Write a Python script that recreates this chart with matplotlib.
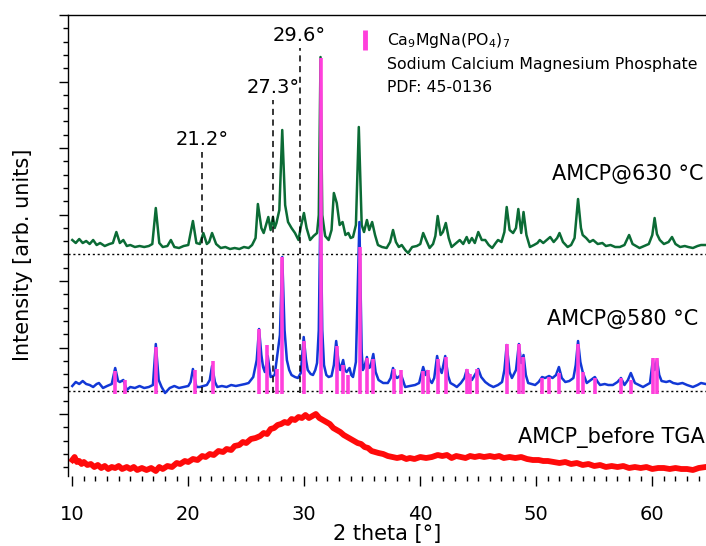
import matplotlib
matplotlib.use('Agg')
import matplotlib.pyplot as plt
from matplotlib.ticker import MultipleLocator
import numpy as np

plt.rcParams['font.family'] = ['DejaVu Sans']
plt.rcParams['mathtext.default'] = 'regular'

# AMCP@630 °C (intensity above its own baseline, arb. units)
tt_630 = [10.0, 10.3, 10.6, 10.9, 11.2, 11.5, 11.8, 12.1, 12.4, 12.8, 13.2, 13.5, 13.8, 14.1, 14.4, 14.7,
          15.0, 15.4, 15.8, 16.2, 16.6, 16.9, 17.2, 17.5, 17.8, 18.2, 18.5, 18.8, 19.2, 19.6, 20.0, 20.4,
          20.7, 21.0, 21.3, 21.6, 21.8, 22.05, 22.4, 22.8, 23.2, 23.6, 24.0, 24.4, 24.8, 25.2, 25.5, 25.8,
          26.0, 26.3, 26.5, 26.9, 27.1, 27.3, 27.45, 27.6, 27.85, 28.1, 28.35, 28.6, 28.9, 29.2, 29.5, 29.7,
          29.97, 30.2, 30.5, 30.8, 31.1, 31.25, 31.4, 31.55, 31.8, 32.1, 32.35, 32.55, 32.8, 33.05, 33.3, 33.55,
          33.8, 34.0, 34.2, 34.45, 34.7, 34.95, 35.15, 35.4, 35.6, 35.85, 36.1, 36.35, 36.7, 37.1, 37.4, 37.65,
          37.9, 38.15, 38.4, 38.7, 38.95, 39.3, 39.7, 40.0, 40.25, 40.5, 40.8, 41.1, 41.3, 41.5, 41.75, 41.95,
          42.2, 42.45, 42.7, 43.0, 43.4, 43.7, 44.0, 44.2, 44.45, 44.7, 45.0, 45.3, 45.6, 45.9, 46.2, 46.5,
          46.7, 47.0, 47.25, 47.45, 47.7, 48.0, 48.25, 48.45, 48.7, 48.9, 49.15, 49.45, 49.8, 50.1, 50.3, 50.6,
          50.9, 51.2, 51.5, 51.8, 52.0, 52.3, 52.7, 53.0, 53.3, 53.6, 53.85, 54.0, 54.3, 54.6, 54.9, 55.3,
          55.7, 56.0, 56.4, 56.8, 57.2, 57.6, 58.0, 58.3, 58.6, 58.9, 59.3, 59.7, 60.0, 60.2, 60.4, 60.65,
          61.0, 61.4, 61.7, 62.0, 62.4, 62.8, 63.1, 63.5, 63.9, 64.2, 64.6]
int_630 = [14, 11, 15, 11, 13, 10, 14, 9, 11, 8, 10, 11, 22, 11, 14, 8,
           9, 7, 8, 7, 8, 10, 46, 11, 7, 8, 14, 7, 6, 8, 9, 33,
           11, 10, 21, 10, 12, 21, 10, 6, 7, 5, 6, 5, 7, 6, 9, 16,
           50, 26, 21, 37, 24, 37, 26, 31, 44, 124, 49, 32, 26, 21, 14, 27,
           41, 26, 14, 18, 21, 39, 197, 39, 18, 14, 24, 61, 51, 29, 32, 19,
           21, 16, 17, 29, 127, 29, 22, 34, 24, 32, 19, 9, 7, 6, 12, 24,
           12, 7, 9, 4, 1, 7, 8, 10, 21, 14, 6, 10, 18, 38, 19, 22,
           31, 16, 7, 10, 14, 10, 17, 11, 16, 11, 22, 14, 14, 9, 6, 11,
           14, 12, 22, 47, 24, 21, 26, 45, 21, 42, 19, 7, 9, 11, 14, 11,
           14, 17, 12, 16, 21, 12, 7, 9, 16, 55, 26, 19, 16, 12, 14, 10,
           11, 8, 9, 7, 7, 9, 19, 10, 8, 6, 8, 10, 19, 36, 20, 14,
           10, 12, 17, 10, 7, 8, 7, 6, 8, 9, 9]

# AMCP@580 °C
tt_580 = [10.0, 10.3, 10.6, 10.9, 11.2, 11.5, 11.8, 12.1, 12.3, 12.65, 13.0, 13.4, 13.7, 13.95, 14.1, 14.4,
          14.7, 15.0, 15.4, 15.8, 16.2, 16.6, 16.95, 17.2, 17.45, 17.7, 18.0, 18.4, 18.8, 19.2, 19.6, 20.0,
          20.2, 20.4, 20.7, 21.0, 21.3, 21.6, 21.85, 22.05, 22.3, 22.5, 22.9, 23.3, 23.7, 24.1, 24.5, 24.9,
          25.2, 25.6, 25.9, 26.1, 26.3, 26.45, 26.6, 26.85, 27.1, 27.3, 27.45, 27.7, 27.9, 28.1, 28.3, 28.5,
          28.7, 28.9, 29.2, 29.45, 29.7, 29.95, 30.15, 30.3, 30.55, 30.75, 30.95, 31.1, 31.25, 31.4, 31.55, 31.7,
          31.9, 32.1, 32.35, 32.55, 32.75, 32.95, 33.1, 33.35, 33.5, 33.65, 33.9, 34.05, 34.2, 34.45, 34.75, 34.95,
          35.05, 35.2, 35.4, 35.55, 35.7, 35.95, 36.15, 36.4, 36.8, 37.2, 37.45, 37.65, 37.85, 38.0, 38.35, 38.7,
          39.1, 39.55, 39.9, 40.25, 40.45, 40.6, 40.8, 41.0, 41.2, 41.45, 41.65, 41.85, 42.15, 42.4, 42.6, 42.9,
          43.15, 43.5, 43.8, 44.0, 44.2, 44.45, 44.75, 45.0, 45.25, 45.6, 45.95, 46.3, 46.7, 47.05, 47.25, 47.45,
          47.7, 47.9, 48.25, 48.5, 48.7, 48.9, 49.1, 49.3, 49.6, 49.9, 50.2, 50.5, 50.75, 51.1, 51.4, 51.7,
          51.95, 52.2, 52.5, 52.85, 53.2, 53.4, 53.6, 53.8, 54.0, 54.35, 54.7, 55.05, 55.3, 55.5, 55.9, 56.2,
          56.6, 57.0, 57.3, 57.6, 57.9, 58.15, 58.5, 58.85, 59.2, 59.5, 59.8, 60.05, 60.2, 60.4, 60.6, 60.8,
          61.2, 61.5, 61.8, 62.2, 62.6, 63.0, 63.5, 63.9, 64.2, 64.6]
int_580 = [5, 9, 7, 10, 7, 6, 4, 7, 8, 3, 5, 7, 23, 10, 9, 11,
           1, 4, 3, 5, 3, 4, 6, 47, 11, 4, -2, 3, 5, 3, 4, 5,
           9, 22, 4, 4, 5, 6, 11, 25, 9, 4, 5, 4, 6, 5, 6, 7,
           8, 14, 31, 62, 36, 24, 19, 35, 14, 15, 16, 38, 56, 134, 61, 31,
           21, 16, 14, 13, 18, 54, 31, 21, 17, 16, 21, 28, 61, 191, 61, 26,
           16, 14, 15, 26, 50, 29, 21, 31, 21, 19, 23, 16, 14, 29, 169, 39,
           21, 25, 34, 23, 24, 37, 19, 11, 8, 8, 13, 23, 15, 13, 16, 4,
           5, 6, 8, 24, 16, 20, 11, 8, 13, 35, 23, 18, 35, 15, 8, 6,
           4, 8, 13, 21, 15, 11, 17, 22, 14, 9, 6, 4, 6, 9, 21, 46,
           19, 13, 21, 47, 28, 36, 16, 8, 7, 6, 9, 14, 13, 15, 13, 16,
           24, 13, 9, 10, 13, 26, 50, 29, 19, 8, 11, 14, 9, 6, 7, 6,
           6, 9, 13, 6, 11, 18, 8, 6, 4, 6, 8, 31, 21, 31, 16, 10,
           9, 10, 8, 7, 8, 6, 4, 6, 8, 7]

# AMCP_before TGA
tt_before = [10.0, 10.2, 10.4, 10.6, 10.8, 11.0, 11.3, 11.6, 11.9, 12.2, 12.5, 12.8, 13.1, 13.4, 13.7, 14.0,
             14.3, 14.7, 15.0, 15.3, 15.6, 16.0, 16.4, 16.8, 17.2, 17.5, 17.8, 18.2, 18.6, 19.0, 19.3, 19.7,
             20.0, 20.4, 20.8, 21.2, 21.5, 21.85, 22.2, 22.6, 23.0, 23.3, 23.7, 24.0, 24.4, 24.7, 25.0, 25.4,
             25.8, 26.2, 26.5, 26.8, 27.1, 27.4, 27.7, 28.0, 28.3, 28.6, 28.9, 29.2, 29.5, 29.8, 30.1, 30.4,
             30.7, 31.0, 31.3, 31.6, 31.9, 32.2, 32.5, 32.8, 33.1, 33.4, 33.7, 34.0, 34.3, 34.6, 34.9, 35.2,
             35.5, 35.8, 36.1, 36.4, 36.8, 37.2, 37.6, 38.0, 38.4, 38.8, 39.1, 39.5, 40.0, 40.5, 41.0, 41.5,
             41.9, 42.3, 42.7, 43.1, 43.5, 43.9, 44.3, 44.7, 45.1, 45.5, 46.0, 46.4, 46.8, 47.2, 47.7, 48.2,
             48.7, 49.2, 49.7, 50.2, 50.6, 51.0, 51.5, 52.0, 52.5, 53.0, 53.5, 54.0, 54.5, 55.0, 55.5, 56.0,
             56.5, 57.0, 57.5, 58.0, 58.5, 59.0, 59.5, 60.0, 60.5, 61.0, 61.5, 62.0, 62.5, 63.0, 63.5, 64.0, 64.6]
int_before = [16, 19, 14, 15, 12, 14, 11, 12, 9, 11, 8, 10, 7, 9, 8, 10,
              7, 9, 7, 9, 6, 8, 6, 8, 5, 9, 7, 10, 9, 13, 12, 15,
              14, 17, 16, 20, 19, 22, 21, 25, 24, 27, 26, 30, 31, 34, 33, 37,
              38, 40, 43, 42, 47, 48, 51, 52, 54, 53, 57, 56, 59, 58, 61, 58,
              60, 62, 58, 56, 54, 52, 48, 46, 44, 41, 39, 37, 35, 33, 32, 29,
              28, 25, 24, 23, 22, 20, 19, 18, 19, 17, 18, 17, 19, 18, 19, 21,
              20, 21, 18, 20, 19, 18, 20, 19, 20, 19, 20, 19, 20, 18, 19, 18,
              19, 17, 16, 16, 15, 15, 14, 13, 14, 12, 13, 11, 12, 10, 11, 9,
              10, 9, 10, 8, 9, 8, 9, 7, 8, 8, 7, 8, 7, 7, 6, 8, 9]

# Ca9MgNa(PO4)7, PDF 45-0136 reference lines
ref_tt = [13.68, 14.54, 17.22, 20.55, 22.1, 26.1, 26.8, 27.67, 28.08, 29.95, 31.4, 32.8, 33.34, 33.77,
          34.78, 35.43, 35.92, 37.76, 38.34, 40.26, 40.64, 41.55, 42.2, 44.0, 44.28, 44.9, 47.45, 48.53,
          48.83, 50.46, 51.1, 51.98, 53.6, 54.05, 55.06, 57.27, 58.14, 60.03, 60.38]
ref_int = [20, 11, 44, 21, 30, 62, 46, 22, 134, 50, 333, 45, 26, 16,
           144, 33, 32, 22, 21, 20, 21, 32, 34, 22, 17, 22, 47, 47,
           34, 13, 14, 18, 47, 19, 13, 13, 11, 33, 33]

marked_tt = [21.2, 27.3, 29.6]
marked_top = [324, 376, 428]

offset_630 = 222
offset_580 = 85
offset_before = 0

green = '#0b6b35'
blue = '#1238d6'
red = '#ff0a0a'
magenta = '#ff40dc'

fig = plt.figure(figsize=(7.06, 5.46), dpi=100)
ax = fig.add_axes([0.0967, 0.1282, 0.9033, 0.8443])

ax.axhline(offset_630, color='black', ls=(0, (1.5, 2)), lw=1.0, zorder=0)
ax.axhline(offset_580, color='black', ls=(0, (1.5, 2)), lw=1.0, zorder=0)

ax.plot(tt_before, np.array(int_before) + offset_before, color=red, lw=4.2, zorder=1)
ax.plot(tt_630, np.array(int_630) + offset_630, color=green, lw=1.8, zorder=2)
ax.plot(tt_580, np.array(int_580) + offset_580, color=blue, lw=1.8, zorder=3)
ax.vlines(ref_tt, offset_580 - 3, np.array(ref_int) + offset_580, color=magenta, lw=2.6, zorder=4)

for t, top in zip(marked_tt, marked_top):
    ax.plot([t, t], [offset_580 - 2, top], color='black', ls=(0, (4, 3)), lw=1.1, zorder=5)
    ax.text(t, top + 7, f'{t}°', ha='center', va='baseline', fontsize=14)

ax.text(64.4, 296, 'AMCP@630 °C', ha='right', va='baseline', fontsize=15)
ax.text(64.0, 151, 'AMCP@580 °C', ha='right', va='baseline', fontsize=15)
ax.text(64.5, 33, 'AMCP_before TGA', ha='right', va='baseline', fontsize=15)

# legend block for the reference pattern
ax.plot([35.2, 35.2], [426, 446], color=magenta, lw=3.5, solid_capstyle='butt')
ax.text(37.1, 431, r'Ca$_9$MgNa(PO$_4$)$_7$', ha='left', va='baseline', fontsize=11.3)
ax.text(37.1, 407, 'Sodium Calcium Magnesium Phosphate', ha='left', va='baseline', fontsize=11.3)
ax.text(37.1, 384, 'PDF: 45-0136', ha='left', va='baseline', fontsize=11.3)

ax.set_xlim(9.655, 64.63)
ax.set_ylim(0, 461)
ax.xaxis.set_major_locator(MultipleLocator(10))
ax.xaxis.set_minor_locator(MultipleLocator(1))
ax.yaxis.set_major_locator(MultipleLocator(66.5, offset=62))
ax.yaxis.set_minor_locator(MultipleLocator(13.3, offset=8.8))
ax.tick_params(axis='x', which='major', direction='out', length=7, width=1, labelsize=14, pad=14)
ax.tick_params(axis='x', which='minor', direction='out', length=3.5, width=1)
ax.tick_params(axis='y', which='major', direction='out', length=6.5, width=1, labelleft=False)
ax.tick_params(axis='y', which='minor', direction='out', length=3.5, width=1)
ax.spines['right'].set_visible(False)
ax.spines['bottom'].set_visible(False)
ax.spines['left'].set_linewidth(1)
ax.spines['top'].set_linewidth(1)

ax.set_xlabel('2 theta [°]', fontsize=15, labelpad=0)
ax.set_ylabel('Intensity [arb. units]', fontsize=15)
ax.yaxis.set_label_coords(-0.055, 0.48)

fig.savefig('out.png', dpi=100)
